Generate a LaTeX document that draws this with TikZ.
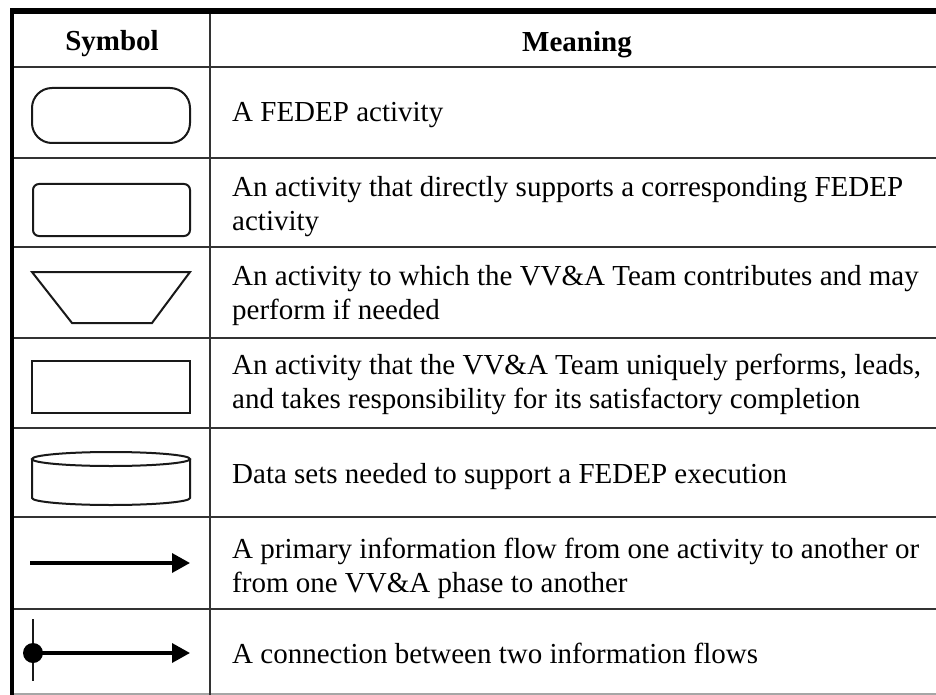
\documentclass[tikz,border=0pt]{standalone}
\usepackage{fontspec}
\setmainfont{Liberation Serif}
\usetikzlibrary{arrows.meta}

\tikzset{
  grid line/.style={line width=2pt, black!80},
  symbol line/.style={line width=2pt, black!90},
  meaning/.style={anchor=base west, align=left, font=\fontsize{29}{34}\selectfont},
  head/.style={anchor=base, font=\fontsize{29}{34}\selectfont\bfseries},
  flow/.style={line width=3.5pt, -{Triangle[length=18pt,width=19pt]}},
}

\begin{document}
\begin{tikzpicture}[x=1pt,y=1pt]
\tikzstyle{every node}+=[inner sep=0pt]
\fill [white] (0,0) rectangle (936,-695);
\useasboundingbox (0,0) rectangle (936,-695);
% table rules
\foreach \y in {67,158,247,338,428,517,609}
  \draw [grid line] (12,-\y) -- (936,-\y);
\draw [black!35, line width=1.5pt] (12,-694) -- (936,-694);
\draw [grid line] (210,-12) -- (210,-695);
\draw [black, line width=4pt] (12,-9) -- (12,-695);
\draw [black, line width=6pt] (10,-11.5) -- (936,-11.5);
% header
\node [head] (symhead) at (112,-51) {Symbol};
\node [head] (meanhead) at (577,-52) {Meaning};
% symbols
\draw [symbol line, rounded corners=20pt] (32,-88) rectangle (190,-143);
\draw [symbol line, rounded corners=6pt] (33,-184) rectangle (190,-236);
\draw [symbol line] (32,-272) -- (190,-272) -- (152,-323) -- (72,-323) -- cycle;
\draw [symbol line] (32,-361) rectangle (190,-413);
\draw [symbol line] (111,-459) ellipse [x radius=79, y radius=7];
\draw [symbol line] (32,-459) -- (32,-498)
  arc [start angle=180, end angle=360, x radius=79, y radius=7] -- (190,-459);
\coordinate (flowA) at (30,-563);
\coordinate (flowB) at (190,-563);
\draw [flow] (flowA) -- (flowB);
\coordinate (joinT) at (33,-619);
\coordinate (joinB) at (33,-681);
\coordinate (join) at (33,-653);
\coordinate (joinE) at (190,-653);
\draw [symbol line, line width=2.5pt] (joinT) -- (joinB);
\fill (join) circle (10);
\draw [flow] (join) -- (joinE);
% meanings (base = last line)
\node [meaning] (m1) at (232,-122) {A FEDEP activity};
\node [meaning] (m2) at (232,-230) {An activity that directly supports a corresponding FEDEP\\activity};
\node [meaning] (m3) at (232,-319) {An activity to which the VV\&A Team contributes and may\\perform if needed};
\node [meaning] (m4) at (232,-408) {An activity that the VV\&A Team uniquely performs, leads,\\and takes responsibility for its satisfactory completion};
\node [meaning] (m5) at (232,-483) {Data sets needed to support a FEDEP execution};
\node [meaning] (m6) at (232,-592) {A primary information flow from one activity to another or\\from one VV\&A phase to another};
\node [meaning] (m7) at (232,-663) {A connection between two information flows};
\end{tikzpicture}
\end{document}
